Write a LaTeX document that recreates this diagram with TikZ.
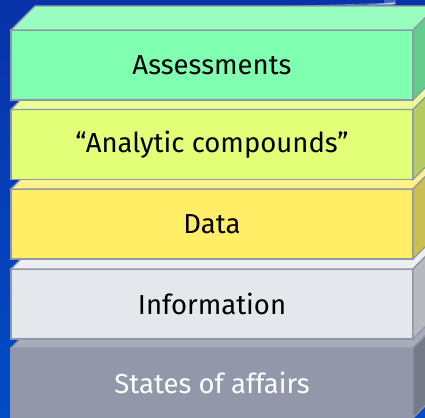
\documentclass[tikz,border=0pt]{standalone}
\usepackage{fontspec}
\setmainfont{Fira Sans}
\begin{document}
\begin{tikzpicture}[x=1pt,y=-1pt,
  edge/.style={draw=edgec,line width=1.1pt,line join=miter},
  face/.style={rectangle,edge,minimum width=402pt,minimum height=70pt,inner sep=0pt,outer sep=0pt,
    font=\fontsize{27.5}{32}\selectfont},
]
\definecolor{edgec}{HTML}{8E97A8}
\definecolor{bgtop}{HTML}{0833A8}
\definecolor{bgbot}{HTML}{004CC6}
\definecolor{aF}{HTML}{80FFB1}\definecolor{aT}{HTML}{99FFC1}\definecolor{aR}{HTML}{66CC8E}
\definecolor{bF}{HTML}{E3FF78}\definecolor{bT}{HTML}{EAFF98}\definecolor{bR}{HTML}{B6CC60}
\definecolor{cF}{HTML}{FFEE66}\definecolor{cT}{HTML}{FFF28A}\definecolor{cR}{HTML}{CCBF52}
\definecolor{dF}{HTML}{E4E7EC}\definecolor{dT}{HTML}{EDEFF3}\definecolor{dR}{HTML}{B7B9BE}
\definecolor{eF}{HTML}{9298A9}\definecolor{eT}{HTML}{A7ACBA}\definecolor{eR}{HTML}{757A88}
% background
\useasboundingbox (0,0) rectangle (425,417);
\shade[top color=bgtop,bottom color=bgbot] (0,0) rectangle (425,417);
\fill[white,opacity=0.25] (390,2) circle (6);
\foreach \a/\b in {215/9, 260/12, 300/14, 330/10, 350/16}
  \draw[white,opacity=0.35,line width=0.8pt] (395,3) -- (\a,\b);
% boxes, bottom to top
\foreach \n/\y/\F/\T/\R/\txt/\tc in {
  e/383/eF/eT/eR/States of affairs/white,
  d/304/dF/dT/dR/Information/black,
  c/224/cF/cT/cR/Data/black,
  b/144.5/bF/bT/bR/“Analytic compounds”/black,
  a/65/aF/aT/aR/Assessments/black}{
  \node[face,fill=\F,text=\tc] (\n) at (212,\y) {\txt};
  \draw[edge,fill=\T] (\n.north west) -- ++(24,-24) -- ([xshift=24pt,yshift=24pt]\n.north east) -- (\n.north east) -- cycle;
  \draw[edge,fill=\R] (\n.north east) -- ++(24,-24) -- ([xshift=24pt,yshift=24pt]\n.south east) -- (\n.south east) -- cycle;
}
\end{tikzpicture}
\end{document}
